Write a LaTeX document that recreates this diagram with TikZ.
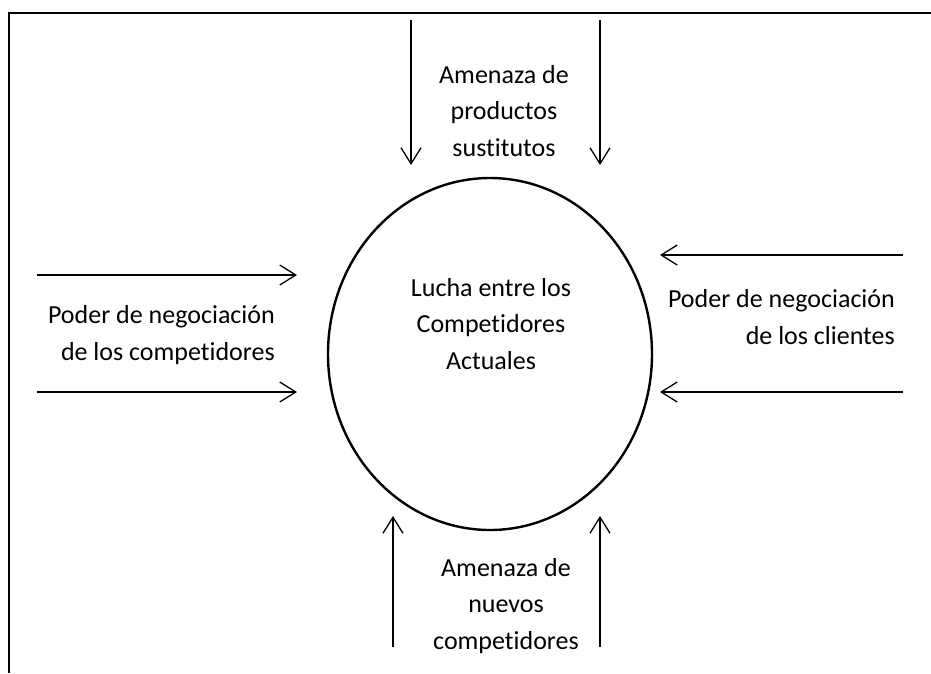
\documentclass[tikz,border=0pt]{standalone}
\usepackage{fontspec}
\setmainfont{Carlito}[Ligatures=NoCommon]
\usetikzlibrary{arrows.meta,shapes.geometric}
\begin{document}
\begin{tikzpicture}[x=1pt,y=-1pt,
  arr/.style={line width=1.3pt,-{Straight Barb[length=16pt,width=20pt,line width=1.3pt]}},
  lbl/.style={align=center,font=\fontsize{26}{36.5}\selectfont,inner sep=0pt},
  frame/.style={line width=2.6pt}]
\useasboundingbox (0,0) rectangle (931,673);
\draw[frame] (9,673) -- (9,13) -- (931,13);
\node[ellipse,draw,line width=2.4pt,minimum width=324pt,minimum height=352pt,inner sep=0pt] (c) at (490,354) {};
\node[lbl] (ct) at (491,324) {Lucha entre los\\Competidores\\Actuales};
\node[lbl] (top) at (504,111) {Amenaza de\\productos\\sustitutos};
\node[lbl] (bot) at (506,606) {Amenaza de\\nuevos\\competidores};
\node[lbl,align=right,anchor=east] (lef) at (275,335) {Poder de negociación\\de los competidores};
\node[lbl,align=right,anchor=east] (rig) at (895,317) {Poder de negociación\\de los clientes};
\coordinate (t1a) at (411,20); \coordinate (t1b) at (411,165);
\coordinate (t2a) at (600,20); \coordinate (t2b) at (600,165);
\coordinate (b1a) at (393,647); \coordinate (b1b) at (393,516);
\coordinate (b2a) at (600,647); \coordinate (b2b) at (600,516);
\coordinate (l1a) at (37,275); \coordinate (l1b) at (297,275);
\coordinate (l2a) at (37,392); \coordinate (l2b) at (297,392);
\coordinate (r1a) at (903,255); \coordinate (r1b) at (660,255);
\coordinate (r2a) at (903,392); \coordinate (r2b) at (660,392);
\foreach \p in {t1,t2,b1,b2,l1,l2,r1,r2}{\draw[arr] (\p a) -- (\p b);}
\end{tikzpicture}
\end{document}
